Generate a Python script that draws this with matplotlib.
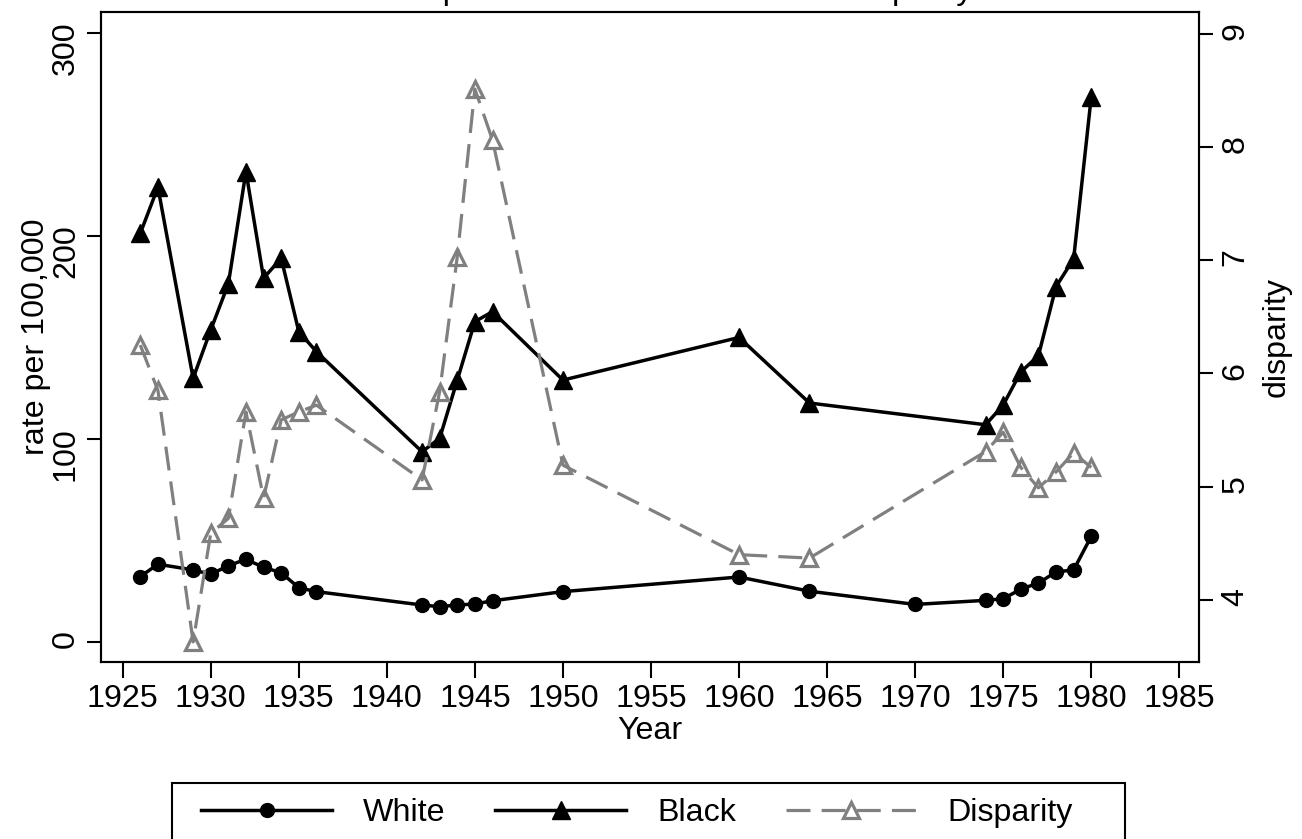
import matplotlib
matplotlib.use("Agg")
import matplotlib.pyplot as plt
from matplotlib.patches import Rectangle

plt.rcParams['font.family'] = ['Liberation Sans', 'DejaVu Sans']

# data
years_white = [1926, 1927, 1929, 1930, 1931, 1932, 1933, 1934, 1935, 1936,
               1942, 1943, 1944, 1945, 1946, 1950, 1960, 1964, 1970,
               1974, 1975, 1976, 1977, 1978, 1979, 1980]
white = [32.2, 38.3, 35.5, 33.3, 37.6, 40.7, 36.8, 34.1, 26.7, 24.8,
         18.2, 17.4, 18.2, 18.7, 20.3, 24.8, 32.0, 25.0, 18.5,
         20.5, 21.3, 26.0, 29.0, 34.5, 35.5, 52.0]

years_black = [1926, 1927, 1929, 1930, 1931, 1932, 1933, 1934, 1935, 1936,
               1942, 1943, 1944, 1945, 1946, 1950, 1960, 1964,
               1974, 1975, 1976, 1977, 1978, 1979, 1980]
black = [201.3, 224.0, 129.9, 153.7, 176.4, 231.7, 179.2, 189.0, 152.9, 143.0,
         93.7, 100.3, 129.0, 157.8, 162.7, 129.0, 150.0, 117.7,
         107.0, 116.7, 133.0, 141.0, 175.0, 188.7, 268.5]
disparity = [6.25, 5.85, 3.63, 4.59, 4.72, 5.66, 4.90, 5.59, 5.66, 5.72,
             5.06, 5.84, 7.03, 8.51, 8.06, 5.19, 4.40, 4.37,
             5.31, 5.48, 5.17, 4.99, 5.13, 5.30, 5.17]

x_ticks = list(range(1925, 1990, 5))
left_ticks = [0, 100, 200, 300]
right_ticks = [4, 5, 6, 7, 8, 9]

fs = 23.2
gray = '#808080'

fig = plt.figure(figsize=(13.02, 8.39), dpi=100)
ax = fig.add_axes([0.0776, 0.2110, 0.8433, 0.7747])
ax2 = ax.twinx()

l_white, = ax.plot(years_white, white, color='black', lw=2.5, marker='o',
                   markersize=10, label='White')
l_black, = ax.plot(years_black, black, color='black', lw=2.5, marker='^',
                   markersize=12.5, label='Black')
l_disp, = ax2.plot(years_black, disparity, color=gray, lw=2.3, dashes=(7.5, 3.5),
                   marker='^', markersize=11, markerfacecolor='none',
                   markeredgecolor=gray, markeredgewidth=2.3, label='Disparity')

ax.set_xlim(1923.77, 1986.12)
ax.set_ylim(-9.85, 310.3)
ax2.set_ylim(3.453, 9.19)

ax.set_xticks(x_ticks)
ax.set_yticks(left_ticks)
ax2.set_yticks(right_ticks)

for a in (ax, ax2):
    for s in a.spines.values():
        s.set_linewidth(1.5)
ax.tick_params(axis='x', labelsize=fs, length=11.5, width=1.5, pad=4.5)
ax.tick_params(axis='y', labelsize=fs, length=10, width=1.5, pad=4.5, labelrotation=90)
ax2.tick_params(axis='y', labelsize=fs, length=10, width=1.5, pad=5.5, labelrotation=90)

ax.set_xlabel('Year', fontsize=fs, labelpad=1)
ax.set_ylabel('rate per 100,000', fontsize=fs)
ax.yaxis.set_label_coords(-0.046, 0.5)
ax2.set_ylabel('disparity', fontsize=fs)
ax2.yaxis.set_label_coords(1.0567, 0.5)

# title sits mostly above the canvas, as in the reference
fig.text(650 / 1302, 1 + 1 / 839, 'Male imprisonment rates and racial disparity',
         ha='center', va='baseline', fontsize=23.8)

fig.legend([l_white, l_black, l_disp], ['White', 'Black', 'Disparity'],
           loc='upper left', bbox_to_anchor=(201 / 1302, 1 - 798 / 839),
           ncol=3, frameon=False, fontsize=fs, handlelength=4.07,
           handletextpad=0.96, columnspacing=1.54, borderpad=0, borderaxespad=0)
fig.add_artist(Rectangle((172 / 1302, -0.05), (1125 - 172) / 1302, 0.05 + (839 - 783) / 839,
                         transform=fig.transFigure, fill=False, lw=1.5, edgecolor='black'))

fig.savefig('out.png', dpi=100)
